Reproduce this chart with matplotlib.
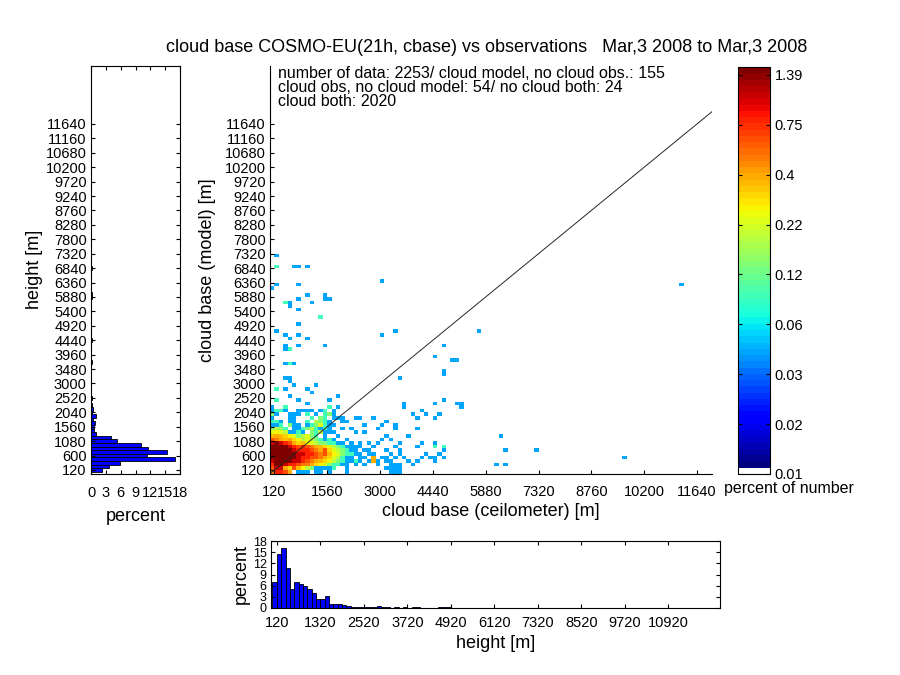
import numpy as np
import matplotlib
matplotlib.use("Agg")
import matplotlib.pyplot as plt
from matplotlib.colors import ListedColormap, LogNorm

plt.rcParams['font.family'] = ['Liberation Sans', 'DejaVu Sans']

BIN = 120          # bin width in m
N_DATA = 2253      # number of data (percent base)

title = "cloud base COSMO-EU(21h, cbase) vs observations   Mar,3 2008 to Mar,3 2008"
info = ("number of data: 2253/ cloud model, no cloud obs.: 155\n"
        "cloud obs, no cloud model: 54/ no cloud both: 24\n"
        "cloud both: 2020")

main_xticks = list(range(120, 11641, 1440))
main_yticks = list(range(120, 11641, 480))
hist_xticks = list(range(120, 10921, 1200))
pct_ticks = [0, 3, 6, 9, 12, 15, 18]
cbar_labels = ['0.01', '0.02', '0.03', '0.06', '0.12', '0.22', '0.4', '0.75', '1.39']

# counts per 120 m x 120 m cell, core of the joint distribution
# rows listed from 1560 m (top) down to 0 m, columns from 0 m rightwards
# '.'=0, digits = counts, a=11 b=14 c=18 d=24 e=32 f=40
core_rows = [
    "112.311.1235211......1...",
    "3432.112342121..1.1.....1",
    "56541121.324111....1.1...",
    "89876534532.1..1.........",
    "ba9897645432121..1.......",
    "dedcb978654332211.1.1.1.1",
    "effedcbcba98754321111..1.",
    "ffffedcccba9b7543211.11..",
    "effffeddccbab86532211.11.",
    "efffeedccbba9754211.11.9.",
    "dffeeddcba98764321121.191",
    "ceedccbaa976532211.1.1..1",
    "bdd97b864311112..1.......",
    "accb9.111.11.1...1.......",
]
CODE = {'.': 0, 'a': 11, 'b': 14, 'c': 18, 'd': 24, 'e': 32, 'f': 40}

# isolated cells: (column, row, count)
sparse_cells = [
    (0, 14, 2), (1, 14, 2), (2, 14, 1), (4, 14, 1), (5, 14, 1), (8, 14, 2), (10, 14, 4),
    (11, 14, 3), (12, 14, 2), (13, 14, 1), (16, 14, 1), (17, 14, 1), (26, 14, 1),
    (0, 15, 1), (4, 15, 1), (5, 15, 1), (9, 15, 2), (11, 15, 3), (12, 15, 2), (14, 15, 1),
    (15, 15, 1), (16, 15, 1), (19, 15, 1), (20, 15, 1), (23, 15, 1), (33, 15, 1), (37, 15, 1),
    (0, 16, 3), (1, 16, 1), (4, 16, 1), (5, 16, 1), (6, 16, 1), (8, 16, 2), (10, 16, 1),
    (12, 16, 2), (13, 16, 3), (14, 16, 1), (32, 16, 1), (35, 16, 1), (38, 16, 1),
    (0, 17, 1), (1, 17, 2), (2, 17, 2), (3, 17, 1), (6, 17, 1), (7, 17, 1), (8, 17, 1),
    (9, 17, 1), (11, 17, 1), (12, 17, 2), (14, 17, 1), (34, 17, 1),
    (0, 18, 1), (3, 18, 2), (13, 18, 2), (15, 18, 1), (30, 18, 1), (43, 18, 1),
    (8, 19, 1), (30, 19, 1), (37, 19, 1), (42, 19, 1), (43, 19, 1),
    (1, 20, 2), (6, 20, 1), (13, 20, 1), (39, 20, 1),
    (4, 21, 1), (15, 21, 1), (9, 22, 1), (1, 23, 2), (3, 23, 1), (8, 23, 1),
    (5, 24, 1), (10, 24, 1), (4, 25, 1),
    (3, 26, 1), (4, 26, 1), (29, 26, 1), (39, 27, 1), (39, 28, 1),
    (3, 30, 1), (4, 30, 2), (5, 30, 1), (41, 31, 1), (42, 31, 1), (37, 32, 1),
    (3, 34, 1), (4, 34, 2), (3, 35, 1), (6, 35, 1), (12, 35, 1), (39, 35, 1),
    (4, 37, 1), (8, 37, 1), (3, 38, 1), (6, 38, 1), (25, 38, 1),
    (1, 39, 1), (28, 39, 1), (47, 39, 1), (6, 41, 1), (11, 43, 2), (6, 45, 1),
    (4, 46, 1), (3, 47, 2), (4, 47, 1), (9, 47, 1), (6, 48, 1), (12, 48, 1), (13, 48, 1),
    (8, 49, 1), (12, 49, 1), (0, 51, 1), (1, 52, 1), (6, 52, 1), (93, 52, 1), (25, 53, 1),
    (1, 57, 2), (5, 57, 1), (6, 57, 1), (8, 57, 1), (1, 60, 1),
    (25, 13, 1), (28, 13, 1), (28, 12, 1), (33, 12, 1), (26, 10, 1), (31, 10, 1), (52, 10, 1),
    (25, 9, 1), (27, 9, 1), (29, 8, 1), (34, 8, 1), (37, 8, 1),
    (28, 7, 1), (33, 7, 1), (37, 7, 2), (39, 7, 2),
    (26, 6, 1), (29, 6, 1), (39, 6, 1), (53, 6, 1), (60, 6, 1),
    (27, 5, 1), (29, 5, 1), (35, 5, 1), (38, 5, 1),
    (25, 4, 1), (26, 4, 1), (28, 4, 1), (30, 4, 1), (34, 4, 1), (36, 4, 1), (37, 4, 1),
    (39, 4, 1), (80, 4, 1),
    (26, 3, 1), (27, 3, 1), (31, 3, 1), (33, 3, 1), (37, 3, 1),
    (27, 2, 1), (28, 2, 1), (29, 2, 1), (32, 2, 1), (51, 2, 1), (53, 2, 1),
    (26, 1, 1), (27, 1, 1), (28, 1, 1), (29, 1, 1),
    (27, 0, 1), (28, 0, 1), (29, 0, 1),
]

# model cloud base histogram (percent), bins centred at 120, 240, ... m
model_pct = [2.2, 3.6, 5.9, 17.0, 11.4, 15.3, 11.6, 10.1, 5.2, 4.0,
             1.0, 0.7, 0.7, 0.9, 0.5, 1.1, 0.3, 0.5, 0.2, 0, 0.2, 0, 0, 0, 0.1,
             0, 0.1, 0, 0, 0, 0.2, 0, 0.1, 0, 0, 0, 0.3, 0, 0, 0, 0.1, 0, 0, 0,
             0.1, 0, 0, 0, 0.3, 0.2, 0, 0, 0, 0.1, 0, 0, 0.2]

# ceilometer cloud base histogram (percent), bins 0-120, 120-240, ... m
obs_pct = [7.1, 14.5, 16.1, 10.7, 5.0, 6.9, 6.4, 5.8, 5.0, 4.0,
           2.5, 2.5, 3.2, 1.1, 1.1, 1.1, 0.7, 0.5, 0.4, 0.3,
           0.3, 0.3, 0.4, 0.4, 0.5, 0.2, 0.4, 0, 0.4, 0,
           0.2, 0, 0.4, 0.4, 0, 0, 0, 0, 0.4, 0.4,
           0.2, 0, 0.1, 0.1, 0, 0, 0, 0.1, 0.1, 0,
           0, 0, 0.1, 0.1, 0.1, 0, 0, 0.1, 0, 0,
           0, 0, 0.1, 0, 0, 0, 0, 0, 0, 0,
           0, 0, 0, 0, 0, 0, 0, 0, 0, 0,
           0, 0, 0, 0.1, 0, 0, 0, 0, 0, 0,
           0, 0, 0, 0, 0, 0, 0.1, 0, 0, 0.1]

XMAX, YMAX = 12050, 13570
W, H = 900, 675
TICK_FS = 10.5
LABEL_FS = 13


def box(l, t, r, b):
    return [l / W, 1 - b / H, (r - l) / W, (b - t) / H]


# build the count grid
ncol, nrow = 101, 114
counts = np.zeros((nrow, ncol))
for j, row in enumerate(core_rows[::-1]):
    for i, ch in enumerate(row):
        counts[j, i] = CODE[ch] if ch in CODE else int(ch)
for i, j, n in sparse_cells:
    counts[j, i] = n
pct = np.ma.masked_equal(counts / N_DATA * 100, 0)

jet = plt.get_cmap('jet')(np.linspace(0, 1, 64))
cmap = ListedColormap(np.vstack([[1, 1, 1, 1], jet]))
norm = LogNorm(vmin=0.01, vmax=1.534)

fig = plt.figure(figsize=(9, 6.75), dpi=100)

# main joint distribution
ax = fig.add_axes(box(270, 66, 712, 473.6))
xe = np.arange(ncol + 1) * BIN
ye = np.arange(nrow + 1) * BIN
mesh = ax.pcolormesh(xe, ye, pct, cmap=cmap, norm=norm, shading='flat', antialiased=False)
ax.plot([0, XMAX], [0, XMAX], color='0.15', lw=0.7)
ax.set_xlim(0, XMAX)
ax.set_ylim(0, YMAX)
ax.set_xticks(main_xticks)
ax.set_yticks(main_yticks)
ax.tick_params(direction='in', length=3, labelsize=TICK_FS, pad=3)
ax.tick_params(axis='x', pad=8)
for s in ('top', 'right'):
    ax.spines[s].set_visible(False)
ax.set_xlabel("cloud base (ceilometer) [m]", fontsize=LABEL_FS, labelpad=3)
ax.set_ylabel("cloud base (model) [m]", fontsize=LABEL_FS, labelpad=6)
ax.text(0.018, 0.999, info, transform=ax.transAxes, va='top', ha='left',
        fontsize=11.5, linespacing=0.88)
fig.text(487 / W, 1 - 47 / H, title, ha='center', va='center', fontsize=13)

# colorbar
cax = fig.add_axes(box(738, 67, 770, 474))
cticks = np.exp(np.linspace(np.log(0.01), np.log(1.39), len(cbar_labels)))
cb = fig.colorbar(mesh, cax=cax, ticks=cticks)
cb.minorticks_off()
cb.set_ticklabels(cbar_labels)
cax.tick_params(direction='in', length=3, labelsize=TICK_FS, left=True, right=True)
fig.text(789 / W, 1 - 489 / H, "percent of number", ha='center', va='center', fontsize=11.5)

# model histogram (left)
axl = fig.add_axes(box(91, 66, 180, 473.6))
ycent = (np.arange(len(model_pct)) + 1) * BIN
axl.barh(ycent, model_pct, height=BIN, color='#0000ff', edgecolor='black', linewidth=0.6)
axl.set_xlim(0, 18)
axl.set_ylim(0, YMAX)
axl.set_xticks(pct_ticks)
axl.set_yticks(main_yticks)
axl.tick_params(direction='in', length=3, labelsize=TICK_FS, top=True, right=True, pad=3)
axl.tick_params(axis='x', pad=9)
axl.set_xlabel("percent", fontsize=LABEL_FS, labelpad=6)
axl.set_ylabel("height [m]", fontsize=LABEL_FS, labelpad=2)

# observation histogram (bottom)
axb = fig.add_axes(box(271, 541, 720, 608))
xcent = np.arange(len(obs_pct)) * BIN + BIN / 2
axb.bar(xcent, obs_pct, width=BIN, color='#0000ff', edgecolor='black', linewidth=0.6)
axb.set_xlim(-40, 12340)
axb.set_ylim(0, 18)
axb.set_xticks(hist_xticks)
axb.set_yticks(pct_ticks)
axb.tick_params(direction='in', length=3, labelsize=TICK_FS, top=True, right=True, pad=3)
axb.tick_params(axis='y', labelsize=9)
axb.tick_params(axis='x', pad=6)
axb.set_xlabel("height [m]", fontsize=LABEL_FS, labelpad=3)
axb.set_ylabel("percent", fontsize=LABEL_FS, labelpad=2)

fig.savefig("out.png", dpi=100)
